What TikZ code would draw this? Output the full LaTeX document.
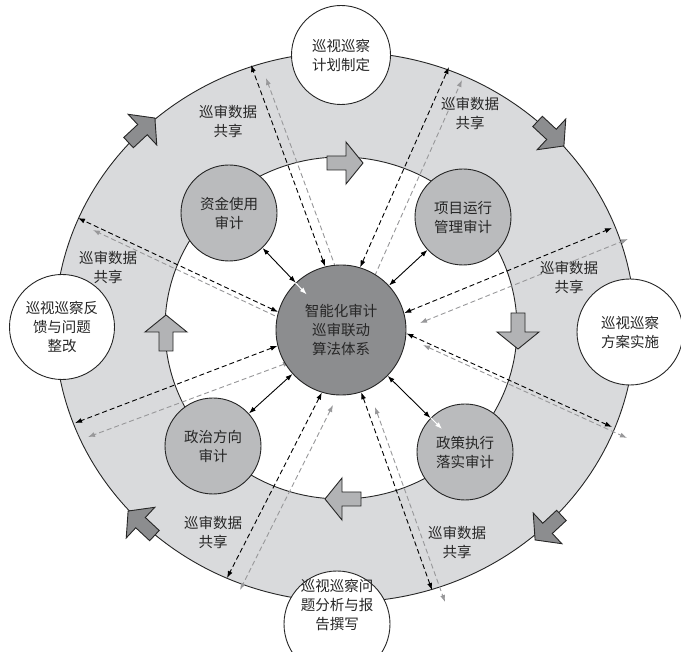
\documentclass[tikz,border=0pt]{standalone}
\usepackage{fontspec}
\newfontfamily\cjk{Noto Sans CJK SC}
\usetikzlibrary{arrows.meta,calc}
\definecolor{ringgray}{RGB}{217,218,220}
\definecolor{subgray}{RGB}{186,187,189}
\definecolor{coregray}{RGB}{140,141,143}
\definecolor{outarr}{RGB}{140,141,143}
\definecolor{inarr}{RGB}{178,179,181}
\definecolor{sharegray}{RGB}{152,152,154}
\tikzset{
  edge/.style={line width=0.9pt, draw=black!85},
  txt/.style={font=\cjk\fontsize{14.5}{19}\selectfont, align=center, text=black!85},
  stage/.style={txt, edge, circle, fill=white, inner sep=0pt},
  audit/.style={txt, edge, circle, fill=subgray, inner sep=0pt, minimum size=96pt},
  hub/.style={txt, edge, circle, fill=coregray, inner sep=0pt, minimum size=130pt},
  shareblack/.style={line width=0.9pt, black, dash pattern=on 5pt off 3pt,
    {Latex[length=7pt,width=5pt]}-{Latex[length=7pt,width=5pt]}},
  sharegrey/.style={shareblack, sharegray},
  link/.style={line width=0.9pt, black,
    {Latex[length=7pt,width=5pt]}-{Latex[length=7pt,width=5pt]}},
  warr/.style={line width=1pt, white, -{Latex[length=7pt,width=5pt]}},
  pics/blk/.style={code={
    \draw[edge, fill=#1] (-17,-7) -- (2,-7) -- (2,-21) -- (19,0) -- (2,21) -- (2,7) -- (-17,7) -- cycle;}},
}

\begin{document}
\begin{tikzpicture}[x=1pt,y=-1pt]
\useasboundingbox (0,0) rectangle (681,652);

% ring
\draw[edge, fill=ringgray] (345,327) ellipse [x radius=290, y radius=275];
\draw[edge, fill=white] (341,328) ellipse [x radius=176, y radius=171];

% outer ends of the sharing lines
\coordinate (tlb) at (251,65);   \coordinate (tlg) at (266,78);   \coordinate (tlgi) at (338,274);
\coordinate (trb) at (449,67);   \coordinate (trg) at (462,80);   \coordinate (trgi) at (372,282);
\coordinate (rub) at (612,228);  \coordinate (rug) at (628,239);  \coordinate (rugi) at (420,323);
\coordinate (rlb) at (612,427);  \coordinate (rlg) at (627,438);  \coordinate (rlgi) at (423,345);
\coordinate (brb) at (432,590);  \coordinate (brg) at (445,602);  \coordinate (brgi) at (375,407);
\coordinate (blb) at (227,578);  \coordinate (blg) at (240,590);  \coordinate (blgi) at (333,405);
\coordinate (llb) at (75,423);   \coordinate (llg) at (88,437);   \coordinate (llgi) at (290,362);
\coordinate (lub) at (78,218);   \coordinate (lug) at (93,230);   \coordinate (lugi) at (288,322);

\draw[sharegrey] (tlgi) -- (tlg);
\draw[sharegrey] (trgi) -- (trg);
\draw[sharegrey] (rugi) -- (rug);
\draw[sharegrey] (rlgi) -- (rlg);
\draw[sharegrey] (brgi) -- (brg);
\draw[sharegrey] (blgi) -- (blg);
\draw[sharegrey] (llgi) -- (llg);
\draw[sharegrey] (lugi) -- (lug);

% audit circles
\node[hub] (core) at (341,330) {智能化审计\\巡审联动\\算法体系};
\node[audit] (zj) at (229,213) {资金使用\\审计};
\node[audit] (xm) at (463,217) {项目运行\\管理审计};
\node[audit] (zc) at (465,452) {政策执行\\落实审计};
\node[audit] (zz) at (213,446) {政治方向\\审计};

\draw[shareblack] (core.104) -- (tlb);
\draw[shareblack] (core.73) -- (trb);
\draw[shareblack] (core.15) -- (rub);
\draw[shareblack] (core.-3) -- (rlb);
\draw[shareblack] (core.-72) -- (brb);
\draw[shareblack] (core.-107) -- (blb);
\draw[shareblack] (core.194) -- (llb);
\draw[shareblack] (core.164) -- (lub);

\draw[link] (zj) -- (core);
\draw[link] (xm) -- (core);
\draw[link] (zc) -- (core);
\draw[link] (zz) -- (core);
\draw[warr] (core.134) -- ($(core.134)!16pt!(core.center)$);
\draw[warr] (zc.135) -- ($(zc.135)!16pt!(zc.center)$);

% stages on the ring
\node[stage, minimum size=99pt] (plan) at (341,55) {巡视巡察\\计划制定};
\node[stage, minimum size=106pt] (impl) at (630,332) {巡视巡察\\方案实施};
\node[stage, minimum size=106pt] (anal) at (337,624) {};
\node[txt] (analtxt) at (337,605) {巡视巡察问\\题分析与报\\告撰写};
\node[stage, minimum size=105pt] (feed) at (62,327) {巡视巡察反\\馈与问题\\整改};

% flow arrows
\pic[rotate=43] at (141,131) {blk=outarr};
\pic[rotate=-43] at (550,133) {blk=outarr};
\pic[rotate=-137] at (549,527) {blk=outarr};
\pic[rotate=137] at (142,524) {blk=outarr};
\pic at (344,163) {blk=inarr};
\pic[rotate=-90] at (518,330) {blk=inarr};
\pic[rotate=180] at (344,499) {blk=inarr};
\pic[rotate=90] at (166,334) {blk=inarr};

% sharing labels
\node[txt] (s1) at (228,121) {巡审数据\\共享};
\node[txt] (s2) at (470,113) {巡审数据\\共享};
\node[txt] (s3) at (569,277) {巡审数据\\共享};
\node[txt] (s4) at (457,542) {巡审数据\\共享};
\node[txt] (s5) at (213,532) {巡审数据\\共享};
\node[txt] (s6) at (108,267) {巡审数据\\共享};
\end{tikzpicture}
\end{document}
